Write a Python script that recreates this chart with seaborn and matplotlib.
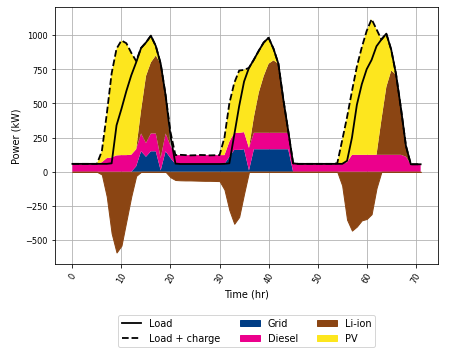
import matplotlib
matplotlib.use("Agg")
import matplotlib.pyplot as plt
import seaborn as sns
import numpy as np
import pandas as pd
from matplotlib.patches import Patch
from matplotlib.lines import Line2D

# Hourly dispatch over three days (kW)
hours = list(range(72))

load = [58, 58, 58, 58, 58, 58, 58, 58, 62, 340, 460, 590, 705, 800, 905, 945, 995, 920, 790, 560, 260, 60,
        57, 57, 57, 57, 57, 57, 57, 57, 57, 58, 62, 270, 480, 660, 760, 820, 885, 945, 980, 900, 790, 530, 300, 62,
        58, 58, 58, 58, 58, 58, 58, 58, 58, 58, 80, 250, 490, 640, 750, 818, 918, 967, 1010, 893, 710, 460, 190,
        55, 55, 55]

load_charge = [58, 58, 58, 58, 58, 58, 150, 420, 720, 900, 960, 940, 870, 810, 905, 945, 995, 920, 790, 560, 290, 122,
               124, 122, 120, 121, 123, 122, 120, 121, 122, 250, 500, 650, 740, 745, 760, 820, 885, 945, 980, 900, 790, 530, 300, 62,
               58, 58, 58, 58, 58, 58, 58, 58, 62, 230, 400, 590, 770, 910, 1030, 1116, 1042, 967, 1010, 893, 710, 460, 190,
               55, 55, 55]

grid = [0, 0, 0, 0, 0, 0, 0, 0, 0, 0, 0, 0, 0, 40, 150, 110, 150, 150, 10, 150, 100, 57,
        57, 57, 57, 57, 57, 57, 57, 57, 57, 57, 110, 160, 160, 165, 10, 165, 165, 165, 165, 165, 165, 165, 165, 0,
        0, 0, 0, 0, 0, 0, 0, 0, 0, 0, 0, 0, 0, 0, 0, 0, 0, 0, 0, 0, 0, 0, 0,
        0, 0, 0]

diesel = [58, 58, 58, 58, 58, 58, 70, 100, 105, 120, 122, 122, 125, 125, 130, 100, 130, 130, 90, 130, 90, 65,
          65, 65, 65, 65, 65, 65, 65, 65, 65, 65, 110, 125, 125, 125, 165, 120, 120, 120, 120, 120, 120, 120, 120, 62,
          58, 58, 58, 58, 58, 58, 58, 58, 58, 62, 70, 124, 124, 124, 124, 124, 124, 124, 124, 124, 124, 124, 110,
          55, 55, 55]

# positive = discharge, negative = charge
liion = [0, 0, 0, 0, 0, 0, -20, -180, -450, -590, -540, -360, -180, -30, 170, 490, 520, 570, 690, 280, -40, -60,
         -62, -63, -63, -64, -65, -66, -66, -67, -68, -130, -280, -380, -330, -160, 0, 115, 295, 415, 505, 530, 505, 245, 15, 0,
         0, 0, 0, 0, 0, 0, 0, 0, 0, -100, -350, -430, -400, -355, -345, -310, -120, 256, 496, 616, 586, 336, 80,
         0, 0, 0]

pv = [0, 0, 0, 0, 0, 0, 80, 320, 615, 780, 838, 818, 745, 645, 455, 245, 195, 70, 0, 0, 0, 0,
      0, 0, 0, 0, 0, 0, 0, 0, 0, 128, 280, 365, 455, 455, 585, 420, 305, 245, 190, 85, 0, 0, 0, 0,
      0, 0, 0, 0, 0, 0, 0, 0, 4, 168, 330, 466, 646, 786, 906, 992, 918, 587, 390, 153, 0, 0, 0,
      0, 0, 0]

df = pd.DataFrame({"hour": hours, "load": load, "load_charge": load_charge,
                   "grid": grid, "diesel": diesel, "liion": liion, "pv": pv})

colors = {"Grid": "#003d85", "Diesel": "#ec008c", "Li-ion": "#8b4513", "PV": "#fde61e"}

fig = plt.figure(figsize=(6.5, 4.9), dpi=72)
ax = fig.add_axes([0.1175, 0.249, 0.8185, 0.7275])

liion_pos = df["liion"].clip(lower=0)
liion_neg = df["liion"].clip(upper=0)

# stacked supply, battery charging drawn below zero
ax.stackplot(df["hour"], df["grid"], df["diesel"], liion_pos, df["pv"],
             colors=[colors["Grid"], colors["Diesel"], colors["Li-ion"], colors["PV"]])
ax.fill_between(df["hour"], 0, liion_neg, color=colors["Li-ion"])

sns.lineplot(data=df, x="hour", y="load", ax=ax, color="black", linewidth=1.8)
sns.lineplot(data=df, x="hour", y="load_charge", ax=ax, color="black", linewidth=1.8,
             linestyle=(0, (3.7, 1.6)))

ax.set_axisbelow(True)
ax.grid(True, color="#b0b0b0", linewidth=0.8)
ax.set_xticks(np.arange(0, 71, 10))
ax.tick_params(axis="both", labelsize=8.2)
plt.setp(ax.get_xticklabels(), rotation=60)
ax.set_xlabel("Time (hr)", fontsize=9.8)
ax.set_ylabel("Power (kW)", fontsize=9.8)

handles = [Line2D([], [], color="black", linewidth=1.8),
           Line2D([], [], color="black", linewidth=1.8, linestyle=(0, (3.7, 1.6))),
           Patch(color=colors["Grid"]), Patch(color=colors["Diesel"]),
           Patch(color=colors["Li-ion"]), Patch(color=colors["PV"])]
labels = ["Load", "Load + charge", "Grid", "Diesel", "Li-ion", "PV"]
fig.legend(handles, labels, loc="upper center", bbox_to_anchor=(0.527, 0.12),
           ncol=3, fontsize=9.8)

fig.savefig("out.png", dpi=72)
